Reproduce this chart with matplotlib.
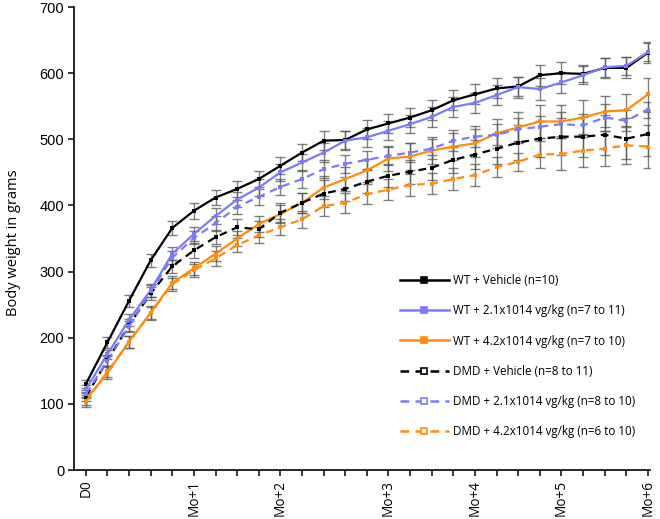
import numpy as np
import matplotlib
matplotlib.use("Agg")
from matplotlib import pyplot as plt
from matplotlib.lines import Line2D

# weekly time points, D0 .. Mo+6
weeks = np.arange(27)
tick_labels = {0: "D0", 5: "Mo+1", 9: "Mo+2", 14: "Mo+3", 18: "Mo+4", 22: "Mo+5", 26: "Mo+6"}

wt_vehicle = [130, 193, 256, 317, 366, 392, 412, 425, 440, 460, 480, 498, 499, 515,
              524, 533, 544, 559, 568, 577, 580, 597, 600, 599, 608, 608, 631]
wt_vehicle_err = [6, 8, 9, 10, 11, 12, 12, 12, 12, 13, 13, 14, 14, 14,
                  14, 14, 15, 15, 15, 15, 15, 16, 17, 13, 15, 16, 16]

wt_low = [122, 175, 227, 272, 327, 357, 384, 409, 427, 450, 465, 480, 498, 503,
          513, 523, 534, 549, 555, 567, 579, 576, 586, 597, 609, 611, 632]
wt_low_err = [6, 7, 9, 10, 10, 11, 12, 12, 13, 13, 13, 14, 14, 14,
              14, 14, 15, 15, 15, 15, 16, 16, 16, 14, 14, 14, 14]

wt_high = [106, 147, 194, 238, 283, 305, 327, 350, 372, 387, 404, 427, 440, 453,
           471, 474, 483, 489, 494, 509, 518, 527, 527, 533, 542, 544, 568]
wt_high_err = [8, 9, 9, 10, 10, 10, 11, 12, 12, 13, 15, 17, 18, 18,
               19, 20, 20, 21, 21, 22, 24, 25, 25, 27, 24, 24, 24]

dmd_vehicle = [111, 166, 219, 267, 308, 332, 352, 367, 364, 389, 404, 418, 425, 436,
               445, 451, 457, 469, 477, 486, 495, 501, 504, 504, 507, 501, 508]
dmd_vehicle_err = [7, 8, 9, 10, 10, 11, 11, 12, 12, 14, 15, 20, 18, 17,
                   17, 18, 19, 20, 22, 24, 26, 27, 28, 30, 30, 31, 33]

dmd_low = [115, 165, 217, 270, 321, 351, 373, 398, 413, 428, 440, 455, 463, 469,
           475, 480, 486, 498, 504, 507, 515, 519, 523, 521, 533, 528, 545]
dmd_low_err = [6, 7, 8, 9, 10, 10, 11, 11, 12, 12, 13, 14, 14, 14,
               14, 15, 15, 16, 16, 16, 17, 17, 18, 18, 20, 16, 12]

dmd_high = [103, 149, 194, 237, 281, 302, 320, 340, 355, 367, 379, 399, 404, 417,
            424, 431, 433, 440, 446, 458, 466, 477, 478, 483, 486, 491, 489]
dmd_high_err = [8, 8, 9, 10, 10, 10, 11, 11, 12, 12, 13, 15, 15, 15,
                16, 16, 16, 17, 17, 15, 14, 20, 24, 25, 26, 28, 32]

labels = ["WT + Vehicle (n=10)",
          "WT + 2.1x1014 vg/kg (n=7 to 11)",
          "WT + 4.2x1014 vg/kg (n=7 to 10)",
          "DMD + Vehicle (n=8 to 11)",
          "DMD + 2.1x1014 vg/kg (n=8 to 10)",
          "DMD + 4.2x1014 vg/kg (n=6 to 10)"]

blue = "#7b7bf7"
orange = "#ff8c0a"

series = [(wt_vehicle, wt_vehicle_err, "black", "-"),
          (wt_low, wt_low_err, blue, "-"),
          (wt_high, wt_high_err, orange, "-"),
          (dmd_vehicle, dmd_vehicle_err, "black", (0, (3.5, 2.5))),
          (dmd_low, dmd_low_err, blue, (0, (3.5, 2.5))),
          (dmd_high, dmd_high_err, orange, (0, (3.5, 2.5)))]

fig = plt.figure(figsize=(6.6, 5.19), dpi=100)
ax = fig.add_axes([0.112, 0.0944, 0.873, 0.892])

for vals, err, col, ls in series:
    ax.errorbar(weeks, vals, yerr=err, fmt="none", ecolor="#555555", elinewidth=1.0,
                capsize=3.8, capthick=1.0, alpha=0.75, zorder=2)
for vals, err, col, ls in series:
    ax.plot(weeks, vals, color=col, linestyle=ls, lw=1.6, marker="s", markersize=3.3,
            markeredgewidth=0, zorder=3)

ax.set_xlim(-0.55, 26.1)
ax.set_ylim(0, 700)
ax.set_yticks(range(0, 701, 100))
ax.set_xticks(weeks)
ax.set_xticklabels([tick_labels.get(w, "") for w in weeks], rotation=90,
                   fontfamily="Open Sans", fontsize=9.8)
for lab in ax.get_yticklabels():
    lab.set_fontfamily("Liberation Sans")
    lab.set_fontsize(10.5)

for side in ["top", "right"]:
    ax.spines[side].set_visible(False)
ax.spines["left"].set_linewidth(1.2)
ax.spines["bottom"].set_linewidth(1.2)
ax.tick_params(direction="out", length=4, width=1.1, pad=3)

ax.set_ylabel("Body weight in grams", fontfamily="Open Sans", fontsize=10.5)
ax.yaxis.set_label_coords(-0.092, 0.49)

handles = []
for i, (vals, err, col, ls) in enumerate(series):
    face = col if i < 3 else "white"
    handles.append(Line2D([], [], color=col, linestyle=ls, lw=1.8, marker="s",
                          markersize=5, markerfacecolor=face, markeredgecolor=col,
                          markeredgewidth=1.2))
leg = ax.legend(handles, labels, loc="upper left", bbox_to_anchor=(0.555, 0.436),
                frameon=False, prop={"family": "Open Sans", "size": 8.4},
                handlelength=4.2, handletextpad=0.4, labelspacing=1.48, borderpad=0)

fig.savefig("out.png", dpi=100)
